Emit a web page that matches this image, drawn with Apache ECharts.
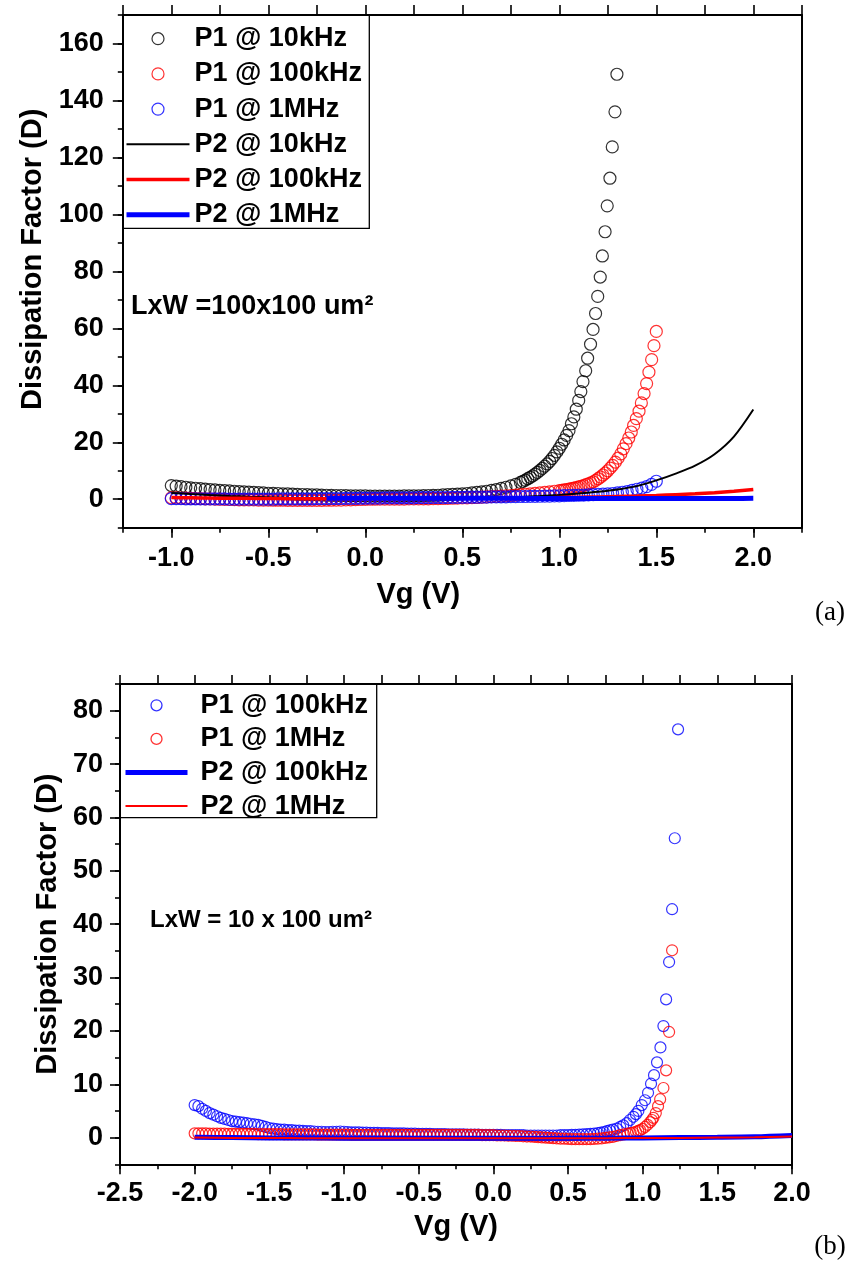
<!DOCTYPE html>
<html><head><meta charset="utf-8">
<script src="https://cdn.jsdelivr.net/npm/echarts@6/dist/echarts.min.js"></script>
<style>
html,body{margin:0;padding:0;background:#fff;width:851px;height:1261px;overflow:hidden}
#a{position:absolute;left:0;top:0;width:851px;height:635px}
#b{position:absolute;left:0;top:635px;width:851px;height:626px}
</style>
</head><body><div id="a"></div><div id="b"></div>
<script>
// ================= DATA : panel (a) =================
const namesA = ['P1 @ 10kHz','P1 @ 100kHz','P1 @ 1MHz','P2 @ 10kHz','P2 @ 100kHz','P2 @ 1MHz'];
const xTicksA = [-1.0,-0.5,0.0,0.5,1.0,1.5,2.0];
const yTicksA = [0,20,40,60,80,100,120,140,160];

// shared Vg grid for the P1 curves of panel (a)
const vgA = [
-1.000,-0.975,-0.950,-0.925,-0.900,-0.875,-0.850,-0.825,-0.800,-0.775,
-0.750,-0.725,-0.700,-0.675,-0.650,-0.625,-0.600,-0.575,-0.550,-0.525,
-0.500,-0.475,-0.450,-0.425,-0.400,-0.375,-0.350,-0.325,-0.300,-0.275,
-0.250,-0.225,-0.200,-0.175,-0.150,-0.125,-0.100,-0.075,-0.050,-0.025,
0.000,0.025,0.050,0.075,0.100,0.125,0.150,0.175,0.200,0.225,
0.250,0.275,0.300,0.325,0.350,0.375,0.400,0.425,0.450,0.475,
0.500,0.525,0.550,0.575,0.600,0.625,0.650,0.675,0.700,0.725,
0.750,0.775,0.800,0.825,0.850,0.875,0.900,0.925,0.950,0.975,
1.000,1.025,1.050,1.075,1.100,1.125,1.150,1.175,1.200,1.225,
1.250,1.275,1.300,1.325,1.350,1.375,1.400,1.425,1.450,1.475,
1.500];

// P1 @ 10kHz (black circles)
const dP1_10k = [
4.8,4.6,4.4,4.2,4.0,3.85,3.7,3.55,3.4,3.25,
3.1,3.0,2.9,2.8,2.7,2.6,2.5,2.4,2.3,2.2,
2.1,2.05,2.0,1.9,1.85,1.8,1.7,1.65,1.6,1.55,
1.5,1.45,1.4,1.35,1.3,1.3,1.25,1.2,1.2,1.15,
1.15,1.1,1.1,1.1,1.1,1.1,1.1,1.1,1.15,1.15,
1.2,1.2,1.25,1.3,1.35,1.4,1.5,1.6,1.7,1.8,
1.9,2.0,2.2,2.4,2.6,2.8,3.1,3.4,3.8,4.2,
4.7,5.2,5.9];
const vgP1_10kHi = [0.8125,0.825,0.8375,0.850,0.8625,0.875,0.8875,0.900,0.9125,0.925,0.9375,0.950,0.9625,0.975,0.9875,1.000,1.0125,1.025,1.0375,1.050,1.0625,1.075,1.0875,1.100,1.111,1.122,1.136,1.146,1.161,1.174,1.187,1.198,1.211,1.222,1.236,1.247,1.261,1.273,1.287,1.297];
const dP1_10kHi = [6.3,6.7,7.2,7.7,8.2,8.8,9.4,10.1,10.8,11.6,12.4,13.3,14.3,15.4,16.6,17.9,19.3,20.8,22.4,24.1,26.5,28.9,31.6,34.7,37.8,41.3,45.1,49.5,54.4,59.6,65.2,71.2,78.0,85.4,93.9,103.0,112.7,123.7,136.0,149.2];

// P1 @ 100kHz (red circles)
const dP1_100k = [
0.5,0.45,0.4,0.35,0.3,0.25,0.2,0.15,0.1,0.05,
0.0,-0.05,-0.1,-0.15,-0.2,-0.2,-0.25,-0.25,-0.3,-0.3,
-0.3,-0.35,-0.35,-0.35,-0.4,-0.4,-0.4,-0.4,-0.4,-0.4,
-0.4,-0.4,-0.35,-0.35,-0.3,-0.3,-0.25,-0.2,-0.15,-0.1,
-0.05,0.0,0.0,0.05,0.05,0.05,0.05,0.05,0.05,0.1,
0.1,0.1,0.15,0.15,0.2,0.2,0.25,0.3,0.35,0.4,
0.45,0.5,0.55,0.6,0.7,0.8,0.9,1.0,1.1,1.2,
1.3,1.45,1.6,1.75,1.9,2.05,2.2,2.4,2.6,2.8,
3.0];
const vgP1_100kHi = [1.0125,1.025,1.0375,1.050,1.0625,1.075,1.0875,1.100,1.1125,1.125,1.1375,1.150,1.1625,1.175,1.1875,1.200,1.2125,1.225,1.2375,1.250,1.2625,1.275,1.289,1.303,1.317,1.330,1.344,1.358,1.371,1.383,1.397,1.411,1.423,1.437,1.450,1.462,1.476,1.488,1.500];
const dP1_100kHi = [3.1,3.25,3.4,3.55,3.7,3.9,4.1,4.3,4.55,4.8,5.1,5.4,5.75,6.1,6.6,7.2,7.8,8.5,9.2,10.0,10.9,11.9,13.0,14.4,15.9,17.7,19.5,21.5,23.6,25.9,28.3,30.9,33.8,37.1,40.6,44.6,49.0,53.9,58.9];

// P1 @ 1MHz (blue circles)
const dP1_1M = [
0.2,0.2,0.2,0.15,0.15,0.15,0.1,0.1,0.1,0.1,
0.1,0.1,0.05,0.05,0.05,0.05,0.05,0.05,0.05,0.05,
0.05,0.05,0.1,0.1,0.1,0.1,0.1,0.15,0.15,0.15,
0.2,0.2,0.2,0.25,0.25,0.25,0.3,0.3,0.3,0.35,
0.35,0.4,0.4,0.4,0.45,0.45,0.45,0.5,0.5,0.5,
0.5,0.55,0.55,0.55,0.6,0.6,0.6,0.6,0.65,0.65,
0.65,0.7,0.7,0.7,0.75,0.75,0.8,0.8,0.85,0.85,
0.9,0.9,0.95,0.95,1.0,1.0,1.05,1.1,1.1,1.15,
1.2,1.25,1.3,1.35,1.4,1.45,1.5,1.6,1.7,1.8,
1.9,2.0,2.2,2.45,2.7,3.1,3.5,3.9,4.4,5.2,
6.3];

// P2 lines of panel (a)
const vgLineA = [-1.0,-0.9,-0.8,-0.7,-0.6,-0.5,-0.4,-0.3,-0.2,-0.1,0.0,0.1,0.2,0.3,0.4,0.5,0.6,0.7,0.8,0.9,1.0,1.1,1.2,1.3,1.4,1.5,1.6,1.7,1.8,1.9,2.0];
const dP2_10k  = [2.2,1.8,1.45,1.15,0.9,0.7,0.5,0.35,0.2,0.1,0.05,0.0,0.0,0.05,0.1,0.2,0.35,0.55,0.8,1.1,1.5,2.0,2.6,3.4,4.6,6.6,9.0,11.8,15.8,22.0,31.5];
const dP2_100k = [0.6,0.5,0.4,0.35,0.3,0.25,0.2,0.2,0.2,0.2,0.25,0.25,0.25,0.25,0.3,0.3,0.35,0.4,0.45,0.5,0.6,0.7,0.8,0.95,1.1,1.3,1.6,1.9,2.3,2.8,3.4];
const vgLineA1M = [-0.2,-0.1,0.0,0.1,0.2,0.3,0.4,0.5,0.6,0.7,0.8,0.9,1.0,1.1,1.2,1.3,1.4,1.5,1.6,1.7,1.8,1.9,2.0];
const dP2_1M   = [0.3,0.3,0.3,0.35,0.35,0.35,0.35,0.3,0.3,0.3,0.3,0.25,0.25,0.25,0.25,0.25,0.25,0.25,0.25,0.25,0.25,0.25,0.3];

// ================= DATA : panel (b) =================
const namesB = ['P1 @ 100kHz','P1 @ 1MHz','P2 @ 100kHz','P2 @ 1MHz'];
const xTicksB = [-2.5,-2.0,-1.5,-1.0,-0.5,0.0,0.5,1.0,1.5,2.0];
const yTicksB = [0,10,20,30,40,50,60,70,80];

const vgB = [
-2.000,-1.975,-1.950,-1.925,-1.900,-1.875,-1.850,-1.825,-1.800,-1.775,
-1.750,-1.725,-1.700,-1.675,-1.650,-1.625,-1.600,-1.575,-1.550,-1.525,
-1.500,-1.475,-1.450,-1.425,-1.400,-1.375,-1.350,-1.325,-1.300,-1.275,
-1.250,-1.225,-1.200,-1.175,-1.150,-1.125,-1.100,-1.075,-1.050,-1.025,
-1.000,-0.975,-0.950,-0.925,-0.900,-0.875,-0.850,-0.825,-0.800,-0.775,
-0.750,-0.725,-0.700,-0.675,-0.650,-0.625,-0.600,-0.575,-0.550,-0.525,
-0.500,-0.475,-0.450,-0.425,-0.400,-0.375,-0.350,-0.325,-0.300,-0.275,
-0.250,-0.225,-0.200,-0.175,-0.150,-0.125,-0.100,-0.075,-0.050,-0.025,
0.000,0.025,0.050,0.075,0.100,0.125,0.150,0.175,0.200,0.225,
0.250,0.275,0.300,0.325,0.350,0.375,0.400,0.425,0.450,0.475,
0.500,0.525,0.550,0.575,0.600,0.625,0.650,0.675,0.700,0.725,
0.750,0.775,0.800,0.825,0.850,0.875,0.900];

// P1 @ 100kHz (blue circles), up to Vg = 0.700
const dB_P1_100k = [
6.1,5.9,5.4,5.0,4.6,4.3,4.0,3.7,3.5,3.3,
3.1,3.0,2.9,2.8,2.7,2.6,2.5,2.4,2.2,2.0,
1.8,1.7,1.6,1.5,1.5,1.4,1.4,1.3,1.3,1.25,
1.2,1.2,1.15,1.1,1.1,1.05,1.05,1.1,1.1,1.15,
1.1,1.05,1.0,1.0,1.0,0.95,0.95,0.9,0.9,0.9,
0.85,0.85,0.85,0.8,0.8,0.8,0.8,0.75,0.75,0.75,
0.7,0.7,0.7,0.7,0.65,0.65,0.65,0.65,0.6,0.6,
0.6,0.6,0.6,0.55,0.55,0.55,0.55,0.5,0.5,0.5,
0.5,0.5,0.5,0.45,0.45,0.45,0.45,0.45,0.45,0.4,
0.4,0.4,0.4,0.4,0.4,0.4,0.4,0.4,0.45,0.45,
0.45,0.5,0.5,0.55,0.6,0.65,0.7,0.75,0.85];
const vgB_P1_100kHi = [0.72,0.74,0.76,0.78,0.80,0.826,0.85,0.87,0.893,0.915,0.938,0.955,0.971,0.994,1.016,1.036,1.056,1.076,1.096,1.119,1.139,1.157,1.177,1.197,1.215,1.237];
const dB_P1_100kHi = [0.95,1.05,1.2,1.35,1.5,1.7,2.0,2.3,2.7,3.3,3.9,4.4,5.0,6.1,7.0,8.4,10.1,11.7,14.1,16.9,20.9,25.9,32.9,42.8,56.1,76.5];

// P1 @ 1MHz (red circles), up to Vg = 0.900
const dB_P1_1M = [
0.8,0.8,0.8,0.8,0.75,0.75,0.75,0.75,0.75,0.7,
0.7,0.7,0.7,0.7,0.7,0.7,0.7,0.65,0.65,0.65,
0.65,0.65,0.65,0.65,0.6,0.6,0.6,0.6,0.6,0.6,
0.6,0.6,0.6,0.55,0.55,0.55,0.55,0.55,0.55,0.55,
0.55,0.55,0.5,0.5,0.5,0.5,0.5,0.5,0.5,0.5,
0.5,0.5,0.5,0.5,0.5,0.5,0.5,0.5,0.5,0.5,
0.5,0.5,0.5,0.5,0.5,0.5,0.5,0.5,0.5,0.5,
0.5,0.5,0.5,0.5,0.5,0.5,0.5,0.45,0.45,0.45,
0.45,0.4,0.4,0.4,0.35,0.35,0.3,0.3,0.25,0.2,
0.2,0.15,0.1,0.05,0.0,-0.05,-0.1,-0.15,-0.2,-0.2,
-0.25,-0.3,-0.3,-0.3,-0.3,-0.3,-0.3,-0.25,-0.2,-0.15,
-0.05,0.05,0.15,0.3,0.45,0.6,0.75];
const vgB_P1_1MHi = [0.92,0.938,0.955,0.97,0.983,1.0,1.016,1.033,1.05,1.062,1.072,1.088,1.103,1.117,1.139,1.157,1.177,1.197];
const dB_P1_1MHi = [0.85,0.95,1.1,1.25,1.4,1.65,2.0,2.4,2.9,3.3,3.7,4.6,5.9,7.2,9.3,12.6,19.8,35.1];

// P2 lines of panel (b)
const vgLineB = [-2.0,-1.75,-1.5,-1.25,-1.0,-0.75,-0.5,-0.25,0.0,0.25,0.5,0.75,1.0,1.25,1.5,1.75,2.0];
const dB_P2_100k = [0.05,0.0,-0.05,-0.05,-0.1,-0.1,-0.1,-0.1,-0.1,-0.1,-0.1,-0.1,-0.05,0.0,0.05,0.15,0.4];
const dB_P2_1M   = [0.0,-0.05,-0.05,-0.1,-0.1,-0.1,-0.1,-0.1,-0.1,-0.1,-0.1,-0.1,-0.05,-0.05,0.0,0.05,0.2];

// ================= helpers =================
const FONT = '"Liberation Sans", Arial, Helvetica, sans-serif';
const BLACK = '#000000', RED = '#ff0000', BLUE = '#0000ff';
const CLEAR = 'rgba(0,0,0,0)';
function zip(xs, ys){ const out = []; for (let i = 0; i < ys.length; i++) out.push([xs[i], ys[i]]); return out; }

function axisSet(dim, o){
  const line = {show:true, onZero:false, lineStyle:{color:'#000', width:2}};
  const tick = {color:'#000', width:1.6};
  const mainPos = dim === 'x' ? 'bottom' : 'left';
  const oppPos  = dim === 'x' ? 'top' : 'right';
  return [
    {type:'value', min:o.min, max:o.max, interval:o.minorStep, position:mainPos,
      axisLine:line, axisTick:{show:true, length:o.minorLen, lineStyle:tick},
      axisLabel:{show:false}, splitLine:{show:false}},
    {type:'value', min:o.min, max:o.max, position:mainPos,
      axisLine:{show:false, onZero:false},
      axisTick:{show:true, length:o.majorLen, customValues:o.major, lineStyle:tick},
      axisLabel:{show:true, customValues:o.major, formatter:o.fmt, margin:o.margin,
        fontFamily:FONT, fontWeight:'bold', fontSize:o.labelSize, color:'#000'},
      splitLine:{show:false},
      name:o.name, nameLocation:'middle', nameGap:o.nameGap,
      nameTextStyle:{fontFamily:FONT, fontWeight:'bold', fontSize:o.nameSize, color:'#000', padding:o.namePad}},
    {type:'value', min:o.min, max:o.max, interval:o.minorStep, position:oppPos,
      axisLine:line, axisTick:{show:o.oppTicks, length:o.oppLen, lineStyle:tick},
      axisLabel:{show:false}, splitLine:{show:false}}
  ];
}
function circles(name, data, color, size){
  return {name:name, type:'scatter', data:data, symbol:'circle', symbolSize:size,
    itemStyle:{color:CLEAR, borderColor:color, borderWidth:1.2},
    emphasis:{disabled:true}, xAxisIndex:0, yAxisIndex:0};
}
function curve(name, data, color, width){
  return {name:name, type:'line', data:data, symbol:'none', showSymbol:false, smooth:0.3,
    lineStyle:{color:color, width:width}, itemStyle:{color:color},
    emphasis:{disabled:true}, xAxisIndex:0, yAxisIndex:0};
}
function legCircle(name, color, w){ return {name:name, itemStyle:{color:CLEAR, borderColor:color, borderWidth:w}}; }
function legLine(name, color, w){ return {name:name, itemStyle:{color:CLEAR, borderColor:CLEAR, borderWidth:0, opacity:0}, lineStyle:{color:color, width:w}}; }
const fmt1 = v => v.toFixed(1);
const fmt0 = v => String(v);

// ================= panel (a) =================
const chartA = echarts.init(document.getElementById('a'));
chartA.setOption({
  animation:false,
  backgroundColor:'#fff',
  grid:{left:122.8, top:15, right:49.2, bottom:107.3},
  xAxis: axisSet('x', {min:-1.25, max:2.25, minorStep:0.25, minorLen:5, major:xTicksA, majorLen:10,
    fmt:fmt1, margin:17, labelSize:27, name:'Vg (V)', nameGap:53, nameSize:29, namePad:[0,88,0,0],
    oppTicks:true, oppLen:10}),
  yAxis: axisSet('y', {min:-10, max:170, minorStep:10, minorLen:5, major:yTicksA, majorLen:10,
    fmt:fmt0, margin:19, labelSize:27, name:'Dissipation Factor (D)', nameGap:75, nameSize:29, namePad:[0,0,0,24],
    oppTicks:false, oppLen:0}),
  legend:{orient:'vertical', left:124, top:25.2, padding:0, itemWidth:63, itemHeight:12, itemGap:8.2,
    selectedMode:false,
    textStyle:{fontFamily:FONT, fontWeight:'bold', fontSize:27, color:'#000', lineHeight:25},
    data:[
      legCircle(namesA[0], BLACK, 1.2),
      legCircle(namesA[1], RED, 1.2),
      legCircle(namesA[2], BLUE, 1.2),
      legLine(namesA[3], BLACK, 2),
      legLine(namesA[4], RED, 3.5),
      legLine(namesA[5], BLUE, 5)
    ]},
  graphic:[
    {type:'rect', silent:true, shape:{x:122.8, y:15, width:246.5, height:213.3},
      style:{fill:'none', stroke:'#000', lineWidth:1.3}},
    {type:'text', silent:true, x:131, y:307,
      style:{text:'LxW =100x100 um²', font:'bold 27px "Liberation Sans", Arial, sans-serif',
        fill:'#000', align:'left', verticalAlign:'middle'}},
    {type:'text', silent:true, x:830, y:613,
      style:{text:'(a)', font:'27px "Liberation Serif", "Times New Roman", serif',
        fill:'#000', align:'center', verticalAlign:'middle'}}
  ],
  series:[
    circles(namesA[0], zip(vgA, dP1_10k).concat(zip(vgP1_10kHi, dP1_10kHi)), BLACK, 12),
    circles(namesA[1], zip(vgA, dP1_100k).concat(zip(vgP1_100kHi, dP1_100kHi)), RED, 12),
    circles(namesA[2], zip(vgA, dP1_1M), BLUE, 12),
    curve(namesA[3], zip(vgLineA, dP2_10k), BLACK, 2),
    curve(namesA[4], zip(vgLineA, dP2_100k), RED, 3.5),
    curve(namesA[5], zip(vgLineA1M, dP2_1M), BLUE, 5)
  ]
});

// ================= panel (b) =================
const chartB = echarts.init(document.getElementById('b'));
chartB.setOption({
  animation:false,
  backgroundColor:'#fff',
  grid:{left:120, top:49, right:59, bottom:96.7},
  xAxis: axisSet('x', {min:-2.5, max:2.0, minorStep:0.25, minorLen:5, major:xTicksB, majorLen:10,
    fmt:fmt1, margin:16, labelSize:27, name:'Vg (V)', nameGap:47, nameSize:29, namePad:[0,0,0,0],
    oppTicks:true, oppLen:9}),
  yAxis: axisSet('y', {min:-5, max:85, minorStep:5, minorLen:5, major:yTicksB, majorLen:10,
    fmt:fmt0, margin:17, labelSize:27, name:'Dissipation Factor (D)', nameGap:58, nameSize:29, namePad:[0,0,0,0],
    oppTicks:false, oppLen:0}),
  legend:{orient:'vertical', left:123, top:56.8, padding:0, itemWidth:62, itemHeight:11, itemGap:6.6,
    selectedMode:false,
    textStyle:{fontFamily:FONT, fontWeight:'bold', fontSize:27, color:'#000', lineHeight:25, padding:[0,0,0,8]},
    data:[
      legCircle(namesB[0], BLUE, 1.3),
      legCircle(namesB[1], RED, 1.3),
      legLine(namesB[2], BLUE, 5),
      legLine(namesB[3], RED, 2)
    ]},
  graphic:[
    {type:'rect', silent:true, shape:{x:120, y:49, width:256.7, height:133.7},
      style:{fill:'none', stroke:'#000', lineWidth:1.3}},
    {type:'text', silent:true, x:150, y:285,
      style:{text:'LxW = 10 x 100 um²', font:'bold 24px "Liberation Sans", Arial, sans-serif',
        fill:'#000', align:'left', verticalAlign:'middle'}},
    {type:'text', silent:true, x:830, y:612,
      style:{text:'(b)', font:'27px "Liberation Serif", "Times New Roman", serif',
        fill:'#000', align:'center', verticalAlign:'middle'}}
  ],
  series:[
    circles(namesB[0], zip(vgB, dB_P1_100k).concat(zip(vgB_P1_100kHi, dB_P1_100kHi)), BLUE, 11),
    circles(namesB[1], zip(vgB, dB_P1_1M).concat(zip(vgB_P1_1MHi, dB_P1_1MHi)), RED, 11),
    curve(namesB[2], zip(vgLineB, dB_P2_100k), BLUE, 5),
    curve(namesB[3], zip(vgLineB, dB_P2_1M), RED, 2)
  ]
});
</script>
</body></html>
